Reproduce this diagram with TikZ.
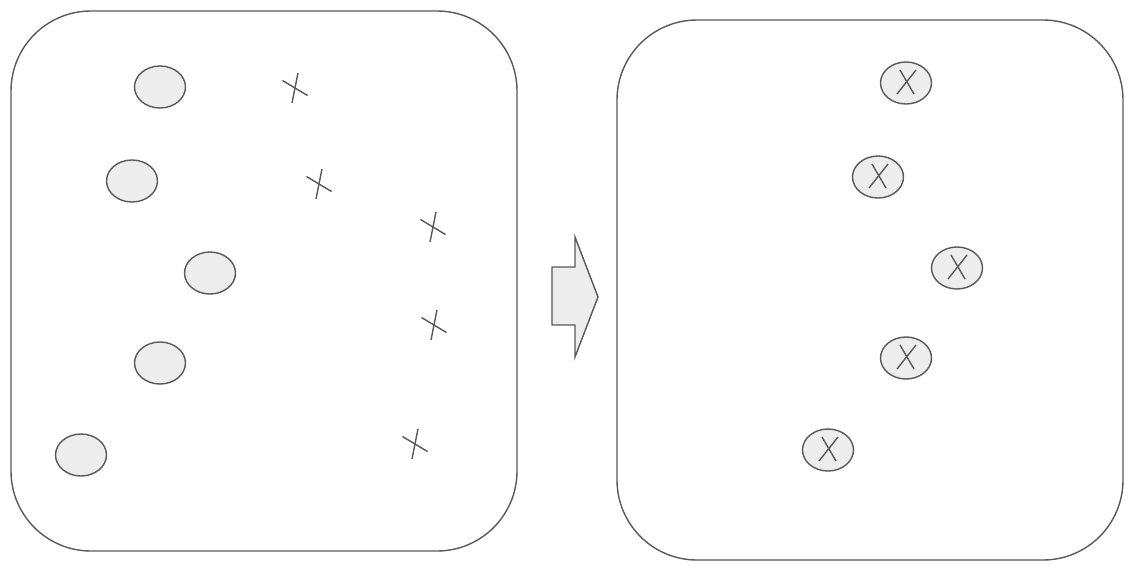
\documentclass[tikz,border=0pt]{standalone}
\begin{document}
\begin{tikzpicture}[x=1pt,y=-1pt,
  stroke/.style={draw=black!65,line width=1.4pt},
  panel/.style={stroke,rounded corners=80pt},
  dot/.style={stroke,fill=black!7,ellipse,x radius=25.5,y radius=21},
  mark/.style={},
]
\useasboundingbox[fill=white] (0,0) rectangle (1145,581);
% panels
\draw[panel] (11,11) rectangle (517,551);
\draw[panel] (617,20) rectangle (1123,560);
% left ellipses
\foreach \n/\x/\y in {a/160/87,b/132/181,c/210/273,d/160/363,e/81/455}{
  \coordinate (L\n) at (\x,\y);
  \draw[stroke,fill=black!7] (L\n) ellipse [x radius=25.5,y radius=21];
}
% crosses
\foreach \n/\x/\y in {a/295/88,b/319/184,c/433/227,d/434/325,e/415/444}{
  \coordinate (X\n) at (\x,\y);
  \draw[stroke] ([shift={(-12.5,-7.5)}]X\n) -- ([shift={(12.5,7.5)}]X\n);
  \draw[stroke] ([shift={(3,-15)}]X\n) -- ([shift={(-3,15)}]X\n);
}
% right ellipses with X
\foreach \n/\x/\y in {a/906/83,b/878/177,c/957/268,d/906/358,e/828/450}{
  \coordinate (R\n) at (\x,\y);
  \draw[stroke,fill=black!7] (R\n) ellipse [x radius=25.5,y radius=21];
  \draw[stroke] ([shift={(-6,-13)}]R\n) -- ([shift={(8,11)}]R\n);
  \draw[stroke] ([shift={(10,-13)}]R\n) -- ([shift={(-9,11)}]R\n);
}
% arrow
\coordinate (tip) at (598,297);
\draw[stroke,fill=black!7,line join=miter]
  (552,267) -- (575,267) -- (575,237) -- (tip) -- (575,357) -- (575,325) -- (552,325) -- cycle;
\end{tikzpicture}
\end{document}
